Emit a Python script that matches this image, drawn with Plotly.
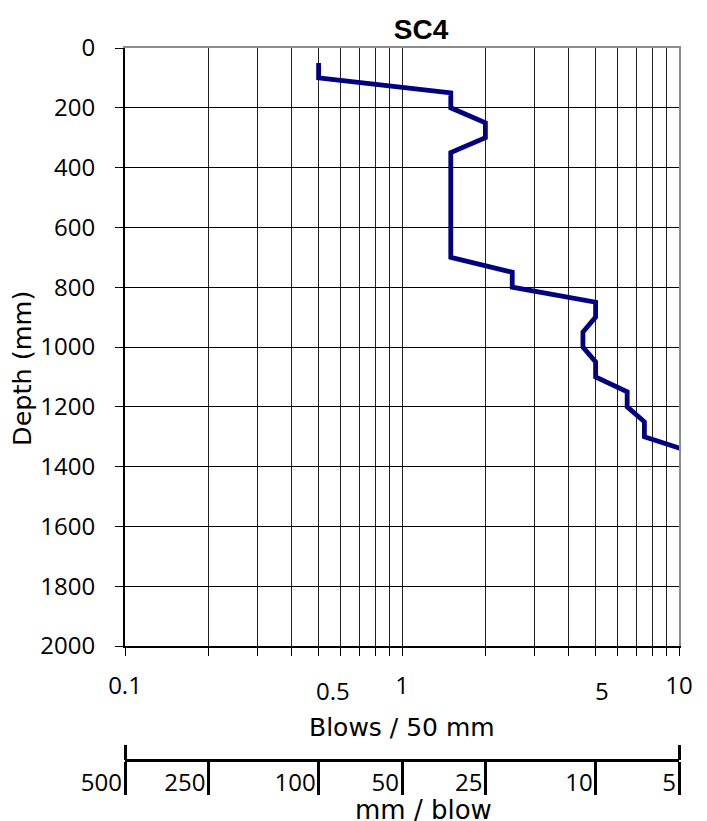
import math
import plotly.graph_objects as go

# penetrometer log SC4
blows = [0.5, 0.5, 1.5, 1.5, 2, 2, 1.5, 1.5, 2.5, 2.5, 5, 5, 4.5, 4.5, 5, 5, 6.5, 6.5, 7.5, 7.5, 11]
depth = [50, 100, 150, 200, 250, 300, 350, 700, 750, 800, 850, 900, 950, 1000, 1050, 1100, 1150, 1200, 1250, 1300, 1350]

grid_vals = [0.1, 0.2, 0.3, 0.4, 0.5, 0.6, 0.7, 0.8, 0.9, 1, 2, 3, 4, 5, 6, 7, 8, 9, 10]
grid_text = ["0.1", "", "", "", "", "", "", "", "", "1", "", "", "", "", "", "", "", "", "10"]
odd_labels = [0.5, 5]  # excel put these ones a bit lower

mm_per_blow = [500, 250, 100, 50, 25, 10, 5]
mm_pos = [50 / v for v in mm_per_blow]

num_font = "Open Sans"
txt_font = "DejaVu Sans"
OFF = 8  # page body margin
W, H = 707 - OFF, 821 - OFF
left, right, top = 125 - OFF, W - (679 - OFF), 48 - OFF
plot_bottom = 646 - OFF
ph = H - top
pw = W - left - right


def py(y_screen):
    # screen pixel -> paper fraction
    return (H - (y_screen - OFF)) / ph


def px_(x_screen):
    return (x_screen - 125) / pw


ydom0 = (H - plot_bottom) / ph

fig = go.Figure()
fig.add_trace(go.Scatter(x=blows, y=depth, mode="lines",
                         line=dict(color="#000080", width=4.8), showlegend=False))

# dummy traces so the overlay axes get drawn
for xa, ya in [("x2", "y"), ("x3", "y"), ("x4", "y2")]:
    fig.add_trace(go.Scatter(x=[1], y=[0], xaxis=xa, yaxis=ya, mode="markers",
                             marker=dict(opacity=0), showlegend=False, hoverinfo="skip"))

fig.update_layout(
    width=W, height=H,
    margin=dict(l=left, r=right, t=top, b=0, autoexpand=False),
    plot_bgcolor="white", paper_bgcolor="white",
    font=dict(family=num_font, size=24, color="black"),
    title=dict(text="<b>SC4</b>", x=px_(421), xref="paper", xanchor="center",
               y=1 - (29 - OFF) / H, yanchor="middle",
               font=dict(family="Liberation Sans", size=28)),
    xaxis=dict(type="log", range=[-1, 1], domain=[0, 1], anchor="y", automargin=False,
               tickmode="array", tickvals=grid_vals, ticktext=grid_text,
               ticks="outside", ticklen=8, tickcolor="black", tickwidth=1,
               showgrid=True, gridcolor="#222222", gridwidth=1,
               showline=True, linecolor="black", linewidth=2,
               tickfont=dict(size=24), ticklabelstandoff=9, zeroline=False),
    yaxis=dict(range=[2000, 0], domain=[ydom0, 1], dtick=200, automargin=False,
               ticks="outside", ticklen=8, tickcolor="black",
               showgrid=True, gridcolor="black", gridwidth=1,
               showline=True, linecolor="black", linewidth=2, zeroline=False,
               tickfont=dict(size=24), ticklabelstandoff=15),
    # mm / blow scale under the chart
    xaxis2=dict(type="log", range=[-1, 1], overlaying="x", anchor="free", position=py(760),
                side="bottom", tickmode="array", tickvals=mm_pos, automargin=False,
                ticktext=[str(v) for v in mm_per_blow],
                ticks="outside", ticklen=33, tickwidth=3, tickcolor="black",
                showline=True, linecolor="black", linewidth=3, showgrid=False, zeroline=False,
                ticklabelposition="outside left", tickfont=dict(size=24)),
    xaxis3=dict(type="log", range=[-1, 1], overlaying="x", anchor="free", position=py(760),
                side="top", tickmode="array", tickvals=[mm_pos[0], mm_pos[-1]], automargin=False,
                ticks="outside", ticklen=15, tickwidth=3, tickcolor="black",
                showticklabels=False, showline=False, showgrid=False, zeroline=False),
    # grey frame on top / right
    xaxis4=dict(type="log", range=[-1, 1], overlaying="x", anchor="y2", side="top", automargin=False,
                showline=True, linecolor="#8c8c8c", linewidth=2, showticklabels=False,
                ticks="", showgrid=False, zeroline=False),
    yaxis2=dict(range=[2000, 0], overlaying="y", side="right", anchor="x4", automargin=False,
                showline=True, linecolor="#8c8c8c", linewidth=2, showticklabels=False,
                ticks="", showgrid=False, zeroline=False),
)

for v, dx in zip(odd_labels, [14, 6]):
    fig.add_annotation(x=math.log10(v), xref="x", y=py(690), yref="paper",
                       text=str(v), showarrow=False, xshift=dx, font=dict(size=24),
                       xanchor="center", yanchor="middle")

fig.add_annotation(x=px_(22), xref="paper", y=py(369), yref="paper", textangle=-90,
                   text="Depth (mm)", showarrow=False, font=dict(family=txt_font, size=25.5),
                   xanchor="center", yanchor="middle")
fig.add_annotation(x=px_(402), xref="paper", y=py(727), yref="paper",
                   text="Blows / 50 mm", showarrow=False, font=dict(family=txt_font, size=25),
                   xanchor="center", yanchor="middle")
fig.add_annotation(x=px_(423), xref="paper", y=py(810), yref="paper",
                   text="mm / blow", showarrow=False, font=dict(family=txt_font, size=26),
                   xanchor="center", yanchor="middle")

fig.write_html("out.html")
